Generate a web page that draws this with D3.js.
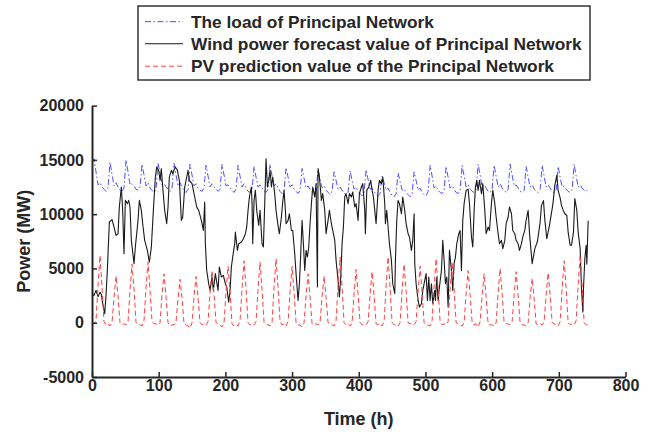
<!DOCTYPE html>
<html><head><meta charset="utf-8">
<script src="https://cdn.jsdelivr.net/npm/d3@7/dist/d3.min.js"></script>
<style>
body{margin:0;background:#fff}
svg{display:block}
text{font-family:"Liberation Sans",Arial,Helvetica,sans-serif;font-weight:bold;fill:#262626}
</style>
</head><body>
<svg id="chart" width="659" height="434"></svg>
<script>
// ---------- data ----------
const seriesNames = [
  "The load of Principal Network",
  "Wind power forecast value of Principal Network",
  "PV prediction value of the Principal Network"
];
const sampleStepH = 3; // load and PV sampled every 3 h, starting at t = 0
const loadMW = [
  14900,15100,13900,12700,12900,12500,12300,12100,
  12400,14800,13700,12600,12900,12500,12200,12100,
  12400,15000,13900,12700,12800,12600,12300,12200,
  12500,14600,13600,12600,12900,12400,12200,12000,
  12300,14700,13700,12700,12800,12500,12300,12100,
  12400,14700,13600,12600,12900,12500,12200,12000,
  12300,14600,13600,12600,12800,12400,12200,12100,
  12400,14500,13500,12500,12800,12500,12300,12100,
  12300,14600,13600,12600,12700,12400,12200,12000,
  12300,14500,13500,12500,12800,12400,12100,12000,
  12200,14400,13400,12500,12700,12400,12200,12000,
  12300,14600,13500,12600,12800,12400,12100,11900,
  12200,14300,13400,12500,12700,12300,12100,11900,
  12200,14200,13300,12400,12600,12300,12000,11900,
  12100,14100,13200,12400,12600,12200,12000,11800,
  12100,13900,13100,12300,12500,12200,11900,11800,
  12000,14000,13100,12300,12500,12100,11900,11700,
  12000,14100,13200,12300,12400,12100,11800,11700,
  11900,13500,12900,12200,12400,12000,11700,11600,
  11900,13800,13000,12200,12300,12000,11800,11600,
  11900,13900,13100,12200,12400,12000,11800,11700,
  12100,14500,13500,12400,12600,12200,12000,11900,
  12200,14400,13400,12400,12600,12300,12000,11900,
  12200,14500,13500,12500,12700,12300,12100,12000,
  12300,14600,13600,12500,12700,12400,12100,12000,
  12300,14500,13500,12500,12800,12400,12200,12000,
  12300,14600,13600,12600,12700,12400,12100,12000,
  12200,14400,13400,12500,12700,12300,12100,12000,
  12300,14500,13500,12500,12700,12400,12100,12000,
  12200,14400,13400,12500,12600,12300,12100,12000,
  12300,14600,13500,12500,12700,12400,12200,12100,
  12300
];
const pvMW = [
  0,-100,200,3400,6200,3300,100,-200,
  -100,-300,0,2300,4300,2500,0,-200,
  -100,-200,100,3000,5400,3100,0,-100,
  -200,-300,200,3200,5600,3000,100,-100,
  -100,-200,0,2600,4500,2400,0,-300,
  -200,-200,100,2200,4000,2300,-100,-200,
  -300,-500,0,2400,4250,2300,0,-200,
  -100,-200,100,2700,4800,2600,0,-100,
  -200,-400,0,2900,5200,2800,-100,-300,
  -200,-300,200,3200,5700,3100,0,-200,
  -100,-200,100,3100,5600,3000,0,-100,
  -200,-300,0,3300,5900,3200,100,-200,
  -100,-300,100,2900,5200,2800,0,-200,
  -200,-400,0,2500,4500,2400,-100,-200,
  -100,-200,100,2400,4300,2300,0,-100,
  -200,-300,200,3400,6050,3300,0,-200,
  -100,-300,0,2700,4900,2600,0,-200,
  -200,-200,100,2600,4700,2500,-100,-200,
  -100,-300,100,3400,6050,3200,0,-200,
  -200,-300,0,3000,5400,2900,0,-100,
  -100,-200,100,2900,5200,2800,0,-200,
  -200,-300,200,3300,5900,3100,100,-200,
  -100,-200,100,3100,5600,3000,0,-100,
  -200,-300,0,2700,4800,2600,0,-200,
  -100,-400,100,2500,4500,2400,-100,-200,
  -200,-300,0,2800,5000,2700,0,-100,
  -100,-200,100,2600,4700,2500,0,-200,
  -200,-300,0,2300,4100,2200,-100,-200,
  -100,-200,100,2600,4600,2500,0,-100,
  -200,-300,100,3200,5700,3100,0,-200,
  -100,-200,200,3500,6200,3400,0,-200,
  -200
];
const windHours = [
  0,3,6,9,12,14,16,19,21,23,26,30,33,36,39,41,44,46,48,50,53,55,57,59,63,65,69,71,74,76,79,83,86,89,92,95,97,100,
  102,104,106,109,112,114,116,119,121,125,128,131,134,136,139,141,144,146,150,154,157,160,164,167,169,170,172,175,177,180,
  182,185,189,191,194,197,200,202,205,207,209,211,214,215,218,220,224,227,230,232,234,236,239,240,241,243,245,247,250,252,
  255,257,259,261,263,265,267,269,271,274,276,279,281,284,286,288,290,291,294,296,299,301,304,306,309,311,313,315,317,319,
  321,323,325,327,329,331,334,336,338,339,341,344,346,349,351,354,356,359,361,364,366,369,371,373,375,377,379,381,384,386,
  389,391,394,396,399,401,404,406,409,410,412,415,418,420,422,424,426,429,431,434,436,439,440,442,444,446,449,451,454,455,
  457,459,461,464,466,469,471,474,476,479,481,483,484,486,489,491,494,496,499,501,503,505,507,509,511,514,515,517,519,521,
  524,526,528,530,532,534,536,539,541,543,545,547,550,552,554,556,558,561,564,566,569,571,573,575,577,579,581,584,586,589,
  591,594,596,599,601,604,606,609,611,614,616,619,621,624,626,629,631,634,636,639,641,644,646,649,651,654,656,660,664,668,
  672,674,677,679,682,686,691,694,697,699,702,704,707,709,712,714,717,719,722,724,727,729,732,734,736,737,739,741,742,744
];
const windMW = [
  2700,2500,2980,2400,2800,2600,1800,830,2500,4820,9280,9490,8820,8050,8200,10660,12500,10350,6360,11270,10970,11270,10660,7590,5440,6970,9430,11270,10350,9120,7590,6660,5590,6970,10350,13420,14350,14040,
  13110,14190,12500,10350,9120,10660,13420,14040,13730,14350,14040,13110,9430,9740,12500,13100,14040,13110,12810,11580,10660,10350,9430,8500,11120,7280,4820,3590,2980,4210,
  2980,4520,2980,5130,4210,4360,3590,3290,1900,2980,5130,6050,7280,8350,6660,7280,7430,7740,8200,8820,10350,11580,12500,10970,7280,11270,12190,10350,8970,10350,
  7280,6970,10970,15110,12500,13110,14040,12500,13420,11890,10350,8900,8200,9740,11120,12190,10350,9120,9430,10040,8500,8500,6360,4520,2060,3590,6360,9430,7280,4820,
  6660,6050,6970,9120,10970,12500,11580,12810,3290,14190,13420,11270,11890,10350,8200,9430,10350,9120,8500,7590,5740,3900,2370,4210,7280,8820,11580,11890,10970,11890,
  11580,12040,10660,10970,9430,11890,12500,12810,10350,8200,12190,12500,13110,12190,11580,10350,9120,12190,13110,12810,13420,10970,9120,10350,8820,7280,5740,3590,2670,5740,
  9430,11270,10970,10040,11580,10350,9120,8200,7900,6660,7590,10040,5440,3590,2060,1440,1750,2980,3900,4520,2060,4210,2060,3590,1750,2980,2060,4210,2060,3290,
  4820,7590,5740,3590,4210,1440,6660,4820,2980,5440,6050,7280,8200,8500,4820,9430,10970,12190,12300,11000,7900,6970,10350,12500,13110,12190,13110,11890,12810,10350,
  8200,8820,8500,11000,12190,10970,9740,8200,7280,7590,6820,7590,9120,9740,10660,10040,8500,8200,7590,7280,6660,7280,7900,8500,9430,10350,8300,5440,6800,7500,
  9270,10810,11250,9500,7740,8970,10880,12650,13580,12200,11500,10810,10300,10040,9880,8350,7130,7130,8350,11430,10350,8350,6820,3130,980,3130,5900,7130,5400,9400
];
const xTickValues = [0,100,200,300,400,500,600,700,800];
const yTickValues = [-5000,0,5000,10000,15000,20000];
const xDomain = [0,800];
const yDomain = [-5000,20000];
const axisTitles = {x:"Time (h)", y:"Power (MW)"};

// ---------- drawing ----------
const svg = d3.select("#chart");
const x = d3.scaleLinear().domain(xDomain).range([92, 625.5]);
const y = d3.scaleLinear().domain(yDomain).range([377, 105.6]);

const loadData = loadMW.map((v,i)=>({t:i*sampleStepH, v}));
const pvData = pvMW.map((v,i)=>({t:i*sampleStepH, v}));
const windData = windMW.map((v,i)=>({t:windHours[i], v}));

const line = d3.line().x(d=>x(d.t)).y(d=>y(d.v));

const styles = [
  {color:"#4f4fff", dash:"6,2.5,1.5,2.5", width:1},
  {color:"#1a1a1a", dash:null, width:1.1},
  {color:"#ff4040", dash:"5,3", width:1}
];
const datasets = [loadData, windData, pvData];

const g = svg.append("g");
datasets.forEach((d,i)=>{
  g.append("path").datum(d)
    .attr("d", line)
    .attr("fill","none")
    .attr("stroke", styles[i].color)
    .attr("stroke-width", styles[i].width)
    .attr("stroke-dasharray", styles[i].dash)
    .attr("stroke-linejoin","round");
});

// axes
const fmt = d => String(d); // plain hyphen minus like the original
const xAxis = d3.axisBottom(x).tickValues(xTickValues).tickFormat(fmt)
  .tickSizeInner(-5).tickSizeOuter(0).tickPadding(3);
const yAxis = d3.axisLeft(y).tickValues(yTickValues).tickFormat(fmt)
  .tickSizeInner(-5).tickSizeOuter(0).tickPadding(8);

const gx = svg.append("g").attr("transform",`translate(0,${y(yDomain[0])})`).call(xAxis);
const gy = svg.append("g").attr("transform",`translate(${x(xDomain[0])},0)`).call(yAxis);
[gx,gy].forEach(a=>{
  a.selectAll("path.domain").attr("stroke","#262626").attr("stroke-width",2);
  a.selectAll(".tick line").attr("stroke","#262626").attr("stroke-width",1.5);
  a.selectAll(".tick text").style("font-size","16px").style("font-family","'Liberation Sans',Arial,sans-serif").style("font-weight","bold").attr("fill","#262626");
});

svg.append("text").attr("x",(x(0)+x(800))/2).attr("y",425)
  .attr("text-anchor","middle").style("font-size","18px").text(axisTitles.x);
svg.append("text").attr("transform",`translate(30,${(y(-5000)+y(20000))/2}) rotate(-90)`)
  .attr("text-anchor","middle").style("font-size","18px").text(axisTitles.y);

// legend
const lg = svg.append("g");
lg.append("rect").attr("x",138).attr("y",6).attr("width",452).attr("height",74)
  .attr("fill","#fff").attr("stroke","#333").attr("stroke-width",1.5);
const rowY = [21.7, 43.8, 66.2];
seriesNames.forEach((name,i)=>{
  lg.append("line").attr("x1",145).attr("x2",183).attr("y1",rowY[i]).attr("y2",rowY[i])
    .attr("stroke",styles[i].color).attr("stroke-width",styles[i].width)
    .attr("stroke-dasharray",styles[i].dash);
  lg.append("text").attr("x",191).attr("y",rowY[i]).attr("dy","0.35em")
    .style("font-size","17.3px").text(name);
});
</script>
</body></html>
